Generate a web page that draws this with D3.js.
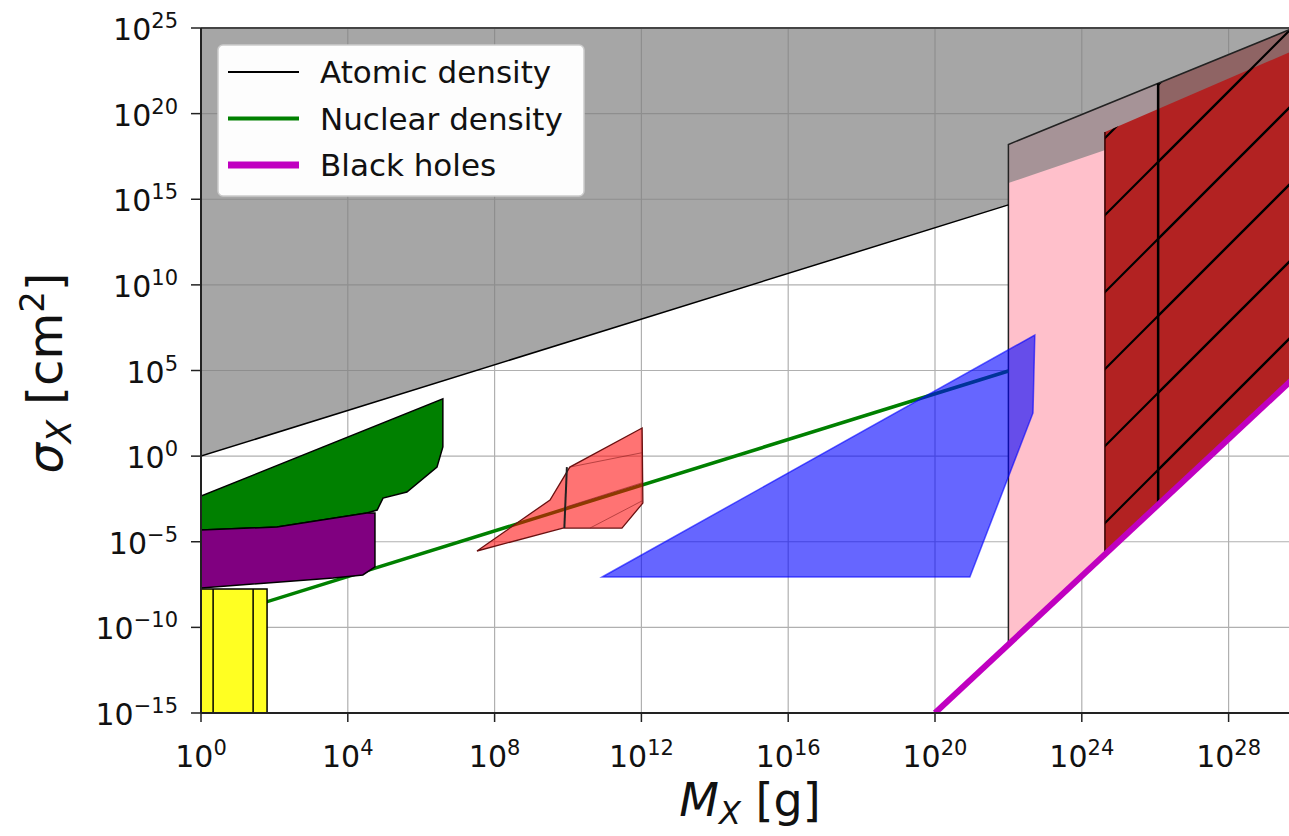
<!DOCTYPE html>
<html>
<head>
<meta charset="utf-8">
<script src="https://cdn.jsdelivr.net/npm/d3@7"></script>
<style>
  body { margin: 0; background: #fff; }
  text { font-family: 'DejaVu Sans', sans-serif; fill: #111; }
</style>
</head>
<body>
<div id="chart"></div>
<script>
// all points are [log10 M_X (g), log10 sigma_X (cm^2)]
const ticksX = [0, 4, 8, 12, 16, 20, 24, 28]
const ticksY = [-15, -10, -5, 0, 5, 10, 15, 20, 25]

const atomicLine = [[0, 0], [22, 14.67]]
const nuclearLine = [[0, -9.7], [22, 4.97]]
const blackHoleLine = [[20, -15], [30, 5]]

const grayRegion = [[0, 0], [22, 14.67], [22, 15.95], [30, 21.8], [30, 25], [0, 25]]
const pinkRegion = [[22, -11], [22, 18.2], [30, 25.2], [30, 5]]
const redRegionA = [[24.63, -5.74], [24.63, 18.93], [30, 23.9], [30, 5]]
const redRegionB = [[26.08, -2.84], [26.08, 21.77], [30, 25.2], [30, 5]]
const greenRegion = [[0, -2.33], [6.59, 3.34], [6.59, 0.54], [6.43, -0.64], [5.61, -2.1],
  [4.96, -2.45], [4.8, -3.15], [4.52, -3.32], [2.07, -4.14], [0, -4.31]]
const purpleRegion = [[0, -4.31], [2.07, -4.14], [4.52, -3.32], [4.74, -3.32], [4.74, -6.47],
  [4.41, -6.94], [3.6, -7.12], [0, -7.7]]
const yellowRegion = [[0, -15], [0, -7.76], [1.8, -7.76], [1.8, -15]]
const yellowEdges = [0.33, 1.42]
const salmonRegion = [[7.52, -5.54], [9.86, -4.2], [11.47, -4.2], [12.04, -2.74], [12.02, 1.64],
  [10.05, -0.64], [9.51, -2.56]]
const salmonInner = [
  [[9.97, -2.95], [12.03, -1.55]],
  [[10.6, -4.2], [12.03, -2.6]],
  [[10.05, -0.64], [12.02, 0.2]]
]
const salmonDivider = [[9.97, -0.64], [9.9, -4.2]]
const blueRegion = [[10.93, -7.06], [22.72, 7.07], [22.67, 2.52], [20.95, -7.06]]

const legendItems = [
  { label: 'Atomic density', color: '#000', width: 2 },
  { label: 'Nuclear density', color: '#008000', width: 4 },
  { label: 'Black holes', color: '#c000c0', width: 7 }
]

const W = 1289, H = 836
const plot = { left: 201, right: 1302, top: 28, bottom: 713 }

const svg = d3.select('#chart').append('svg')
  .attr('width', W).attr('height', H)

const x = d3.scaleLog().domain([1, 1e30]).range([plot.left, plot.right])
const y = d3.scaleLog().domain([1e-15, 1e25]).range([plot.bottom, plot.top])

const px = d => x(Math.pow(10, d[0]))
const py = d => y(Math.pow(10, d[1]))
const line = d3.line().x(px).y(py)
const poly = pts => line(pts) + 'Z'

const defs = svg.append('defs')
defs.append('clipPath').attr('id', 'clip')
  .append('rect')
  .attr('x', plot.left).attr('y', plot.top)
  .attr('width', plot.right - plot.left).attr('height', plot.bottom - plot.top)

// hatch lines at 45 degrees
const hs = 77
const hatch = defs.append('pattern').attr('id', 'hatch')
  .attr('patternUnits', 'userSpaceOnUse')
  .attr('x', 11).attr('y', 0)
  .attr('width', hs).attr('height', hs)
hatch.append('path')
  .attr('d', `M0,${hs} L${hs},0 M-10,10 L10,-10 M${hs - 10},${hs + 10} L${hs + 10},${hs - 10}`)
  .attr('stroke', '#000').attr('stroke-width', 2.2)

// grid
const grid = svg.append('g')
grid.selectAll('.gx').data(ticksX).enter().append('line')
  .attr('x1', d => x(Math.pow(10, d))).attr('x2', d => x(Math.pow(10, d)))
  .attr('y1', plot.top).attr('y2', plot.bottom)
  .attr('stroke', '#b0b0b0').attr('stroke-width', 1.2)
grid.selectAll('.gy').data(ticksY).enter().append('line')
  .attr('x1', plot.left).attr('x2', plot.right)
  .attr('y1', d => y(Math.pow(10, d))).attr('y2', d => y(Math.pow(10, d)))
  .attr('stroke', '#b0b0b0').attr('stroke-width', 1.2)

const g = svg.append('g').attr('clip-path', 'url(#clip)')

// pink column and red hatched blocks
g.append('path').attr('d', poly(pinkRegion)).attr('fill', '#ffc0cb')
g.append('path').attr('d', poly(redRegionB)).attr('fill', '#b22222')

// grey region (above atomic density)
g.append('path').attr('d', poly(grayRegion)).attr('fill', '#808080').attr('fill-opacity', 0.7)

g.append('path').attr('d', poly(redRegionA)).attr('fill', '#b22222')
g.append('path').attr('d', poly(redRegionB)).attr('fill', 'url(#hatch)')
g.append('path').attr('d', poly(redRegionA)).attr('fill', 'url(#hatch)')

// outlines of the right-hand blocks
g.append('path').attr('d', line(pinkRegion.slice(0, 3)))
  .attr('fill', 'none').attr('stroke', '#222').attr('stroke-width', 1.5)
g.append('path').attr('d', line(redRegionA.slice(0, 2)))
  .attr('fill', 'none').attr('stroke', '#300').attr('stroke-width', 1.5)
g.append('path').attr('d', line(redRegionB.slice(0, 2)))
  .attr('fill', 'none').attr('stroke', '#000').attr('stroke-width', 2.5)

// atomic density line
g.append('path').attr('d', line(atomicLine))
  .attr('fill', 'none').attr('stroke', '#000').attr('stroke-width', 1.5)

// nuclear density line
g.append('path').attr('d', line(nuclearLine))
  .attr('fill', 'none').attr('stroke', '#008000').attr('stroke-width', 3.5)

// left-hand constraint regions
g.append('path').attr('d', poly(greenRegion))
  .attr('fill', '#008000').attr('stroke', '#000').attr('stroke-width', 1.5)
g.append('path').attr('d', poly(purpleRegion))
  .attr('fill', '#800080').attr('stroke', '#000').attr('stroke-width', 1.5)
g.append('path').attr('d', poly(yellowRegion))
  .attr('fill', '#ffff22').attr('stroke', '#000').attr('stroke-width', 1.5)
g.selectAll('.yedge').data(yellowEdges).enter().append('path')
  .attr('d', d => line([[d, -15], [d, yellowRegion[1][1]]]))
  .attr('stroke', '#000').attr('stroke-width', 1.5)

g.append('path').attr('d', poly(salmonRegion))
  .attr('fill', '#ff0000').attr('fill-opacity', 0.55)
  .attr('stroke', '#6a1010').attr('stroke-width', 1.3)
g.selectAll('.sin').data(salmonInner).enter().append('path')
  .attr('d', d => line(d))
  .attr('fill', 'none').attr('stroke', '#8b2020').attr('stroke-width', 1)
  .attr('stroke-opacity', 0.6)
g.append('path').attr('d', line(salmonDivider))
  .attr('stroke', '#222').attr('stroke-width', 2)

g.append('path').attr('d', poly(blueRegion))
  .attr('fill', '#0000ff').attr('fill-opacity', 0.6)
  .attr('stroke', '#0000ff').attr('stroke-opacity', 0.6).attr('stroke-width', 1.5)

// black holes
g.append('path').attr('d', line(blackHoleLine))
  .attr('fill', 'none').attr('stroke', '#c000c0').attr('stroke-width', 6)

// spines
svg.append('line').attr('x1', plot.left).attr('x2', plot.right)
  .attr('y1', plot.top).attr('y2', plot.top).attr('stroke', '#444').attr('stroke-width', 2)
svg.append('line').attr('x1', plot.left).attr('x2', plot.right)
  .attr('y1', plot.bottom).attr('y2', plot.bottom).attr('stroke', '#222').attr('stroke-width', 2)
svg.append('line').attr('x1', plot.left).attr('x2', plot.left)
  .attr('y1', plot.top).attr('y2', plot.bottom).attr('stroke', '#222').attr('stroke-width', 2)

function powLabel(sel, e) {
  sel.append('tspan').text('10')
  sel.append('tspan').text(e < 0 ? '\u2212' + (-e) : e)
    .attr('font-size', 21).attr('dy', -12)
}

// x ticks
const xt = svg.append('g')
ticksX.forEach(t => {
  const xx = x(Math.pow(10, t))
  xt.append('line').attr('x1', xx).attr('x2', xx)
    .attr('y1', plot.bottom).attr('y2', plot.bottom + 9)
    .attr('stroke', '#222').attr('stroke-width', 1.5)
  xt.append('text').attr('x', xx).attr('y', 767)
    .attr('text-anchor', 'middle').attr('font-size', 30)
    .call(powLabel, t)
})

// y ticks
const yt = svg.append('g')
ticksY.forEach(t => {
  const yy = y(Math.pow(10, t))
  yt.append('line').attr('x1', plot.left - 10).attr('x2', plot.left)
    .attr('y1', yy).attr('y2', yy)
    .attr('stroke', '#222').attr('stroke-width', 1.5)
  yt.append('text').attr('x', 178).attr('y', yy + 12)
    .attr('text-anchor', 'end').attr('font-size', 30)
    .call(powLabel, t)
})

// axis labels
const xl = svg.append('text').attr('x', 750).attr('y', 816)
  .attr('text-anchor', 'middle').attr('font-size', 46)
xl.append('tspan').text('M').attr('font-style', 'italic')
xl.append('tspan').text('X').attr('font-style', 'italic').attr('font-size', 32).attr('dy', 8)
xl.append('tspan').text(' [g]').attr('dy', -8)

const yl = svg.append('text')
  .attr('transform', 'translate(62,373) rotate(-90)')
  .attr('text-anchor', 'middle').attr('font-size', 48)
yl.append('tspan').text('\u03c3').attr('font-style', 'italic')
yl.append('tspan').text('X').attr('font-style', 'italic').attr('font-size', 34).attr('dy', 9)
yl.append('tspan').text(' [cm').attr('dy', -9)
yl.append('tspan').text('2').attr('font-size', 34).attr('dy', -18)
yl.append('tspan').text(']').attr('dy', 18)

// legend
const lg = svg.append('g')
lg.append('rect').attr('x', 218).attr('y', 45).attr('width', 366).attr('height', 151)
  .attr('rx', 5).attr('fill', '#fff').attr('fill-opacity', 0.98)
  .attr('stroke', '#ccc').attr('stroke-width', 1.5)
legendItems.forEach((d, i) => {
  const ly = 72 + i * 46.5
  lg.append('line').attr('x1', 228).attr('x2', 299).attr('y1', ly).attr('y2', ly)
    .attr('stroke', d.color).attr('stroke-width', d.width)
  lg.append('text').attr('x', 320).attr('y', ly + 11).attr('font-size', 31).text(d.label)
})
</script>
</body>
</html>
